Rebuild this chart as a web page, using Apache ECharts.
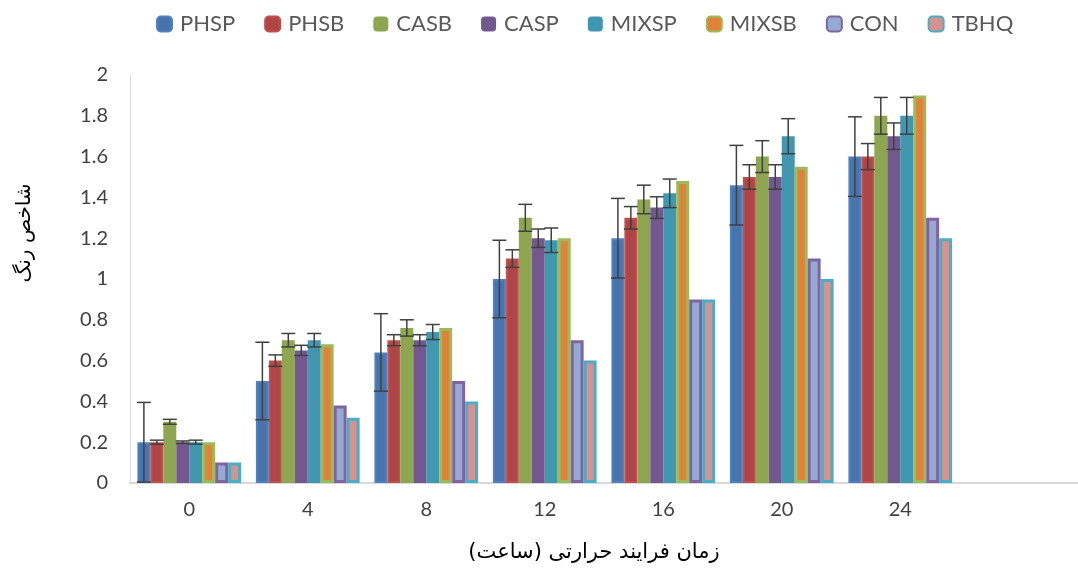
<!DOCTYPE html>
<html>
<head>
<meta charset="utf-8">
<script src="https://cdn.jsdelivr.net/npm/echarts@6/dist/echarts.min.js"></script>
<style>html,body{margin:0;padding:0;background:#fff}#c{width:1078px;height:569px}</style>
</head>
<body>
<div id="c"></div>
<script>
const categories = ['0', '4', '8', '12', '16', '20', '24', ''];
const seriesNames = ['PHSP', 'PHSB', 'CASB', 'CASP', 'MIXSP', 'MIXSB', 'CON', 'TBHQ'];
const PHSP  = [0.2, 0.5, 0.64, 1.0, 1.2, 1.46, 1.6];
const PHSB  = [0.2, 0.6, 0.7, 1.1, 1.3, 1.5, 1.6];
const CASB  = [0.3, 0.7, 0.76, 1.3, 1.39, 1.6, 1.8];
const CASP  = [0.2, 0.65, 0.7, 1.2, 1.35, 1.5, 1.7];
const MIXSP = [0.2, 0.7, 0.74, 1.19, 1.42, 1.7, 1.8];
const MIXSB = [0.2, 0.68, 0.76, 1.2, 1.48, 1.55, 1.9];
const CON   = [0.1, 0.38, 0.5, 0.7, 0.9, 1.1, 1.3];
const TBHQ  = [0.1, 0.32, 0.4, 0.6, 0.9, 1.0, 1.2];
// error bar half-lengths (only first five series show them)
const errPHSP  = [0.195, 0.19, 0.19, 0.19, 0.195, 0.195, 0.195];
const errPHSB  = [0.01, 0.028, 0.027, 0.043, 0.055, 0.06, 0.064];
const errCASB  = [0.012, 0.033, 0.04, 0.066, 0.07, 0.078, 0.09];
const errCASP  = [0.006, 0.025, 0.027, 0.045, 0.053, 0.06, 0.065];
const errMIXSP = [0.01, 0.033, 0.037, 0.06, 0.07, 0.086, 0.09];
const yTicks = ['0', '0.2', '0.4', '0.6', '0.8', '1', '1.2', '1.4', '1.6', '1.8', '2'];

const values = [PHSP, PHSB, CASB, CASP, MIXSP, MIXSB, CON, TBHQ];
const errors = [errPHSP, errPHSB, errCASB, errCASP, errMIXSP];
const styles = [
  {color: '#4874AE', borderColor: '#4F81BD', borderWidth: 2},
  {color: '#B04547', borderColor: '#C0504D', borderWidth: 2},
  {color: '#8DA64F', borderColor: '#8DA64F', borderWidth: 0},
  {color: '#73588F', borderColor: '#73588F', borderWidth: 0},
  {color: '#4197AF', borderColor: '#4197AF', borderWidth: 0},
  {color: '#E0823A', borderColor: '#9BBB59', borderWidth: 3},
  {color: '#95A9D3', borderColor: '#8064A2', borderWidth: 3},
  {color: '#D49390', borderColor: '#4BACC6', borderWidth: 3}
];
const GAP = 0.125;
const N = seriesNames.length;

const series = seriesNames.map((name, i) => ({
  name: name,
  type: 'bar',
  barGap: '0%',
  barCategoryGap: (GAP * 100) + '%',
  itemStyle: styles[i],
  emphasis: {disabled: true},
  data: values[i],
  z: 2
}));

errors.forEach((err, i) => {
  series.push({
    type: 'custom',
    name: seriesNames[i] + '_err',
    z: 5,
    silent: true,
    data: values[i].map((v, k) => [k, v, err[k]]),
    renderItem: function (params, api) {
      const k = api.value(0), v = api.value(1), e = api.value(2);
      const band = api.size([1, 0])[0];
      const bw = band * (1 - GAP) / N;
      const off = (i - (N - 1) / 2) * bw;
      const top = api.coord([k, v + e]);
      const bot = api.coord([k, v - e]);
      const x = top[0] + off;
      const hw = 7;
      const st = {stroke: '#404040', lineWidth: 1.5};
      return {
        type: 'group',
        children: [
          {type: 'line', shape: {x1: x, y1: top[1], x2: x, y2: bot[1]}, style: st},
          {type: 'line', shape: {x1: x - hw, y1: top[1], x2: x + hw, y2: top[1]}, style: st},
          {type: 'line', shape: {x1: x - hw, y1: bot[1], x2: x + hw, y2: bot[1]}, style: st}
        ]
      };
    }
  });
});

const chart = echarts.init(document.getElementById('c'));
chart.setOption({
  animation: false,
  backgroundColor: '#ffffff',
  legend: {
    data: seriesNames,
    top: 8,
    left: 151,
    itemWidth: 15,
    itemHeight: 15,
    itemGap: 29,
    textStyle: {fontFamily: 'Lato', fontSize: 22, color: '#595959', padding: [0, 0, 0, 3]}
  },
  grid: {left: 130, right: -12, top: 75, bottom: 86, containLabel: false},
  xAxis: {
    type: 'category',
    data: categories,
    axisLine: {lineStyle: {color: '#D9D9D9', width: 2}},
    axisTick: {show: false},
    axisLabel: {margin: 17, fontFamily: 'Lato', fontSize: 20, color: '#404040'}
  },
  yAxis: {
    type: 'value',
    min: 0,
    max: 2,
    interval: 0.2,
    axisLine: {show: true, lineStyle: {color: '#D9D9D9', width: 1}},
    axisTick: {show: false},
    splitLine: {show: false},
    axisLabel: {
      margin: 22,
      fontFamily: 'Lato',
      fontSize: 20,
      color: '#404040',
      formatter: function (v) { return yTicks[Math.round(v / 0.2)]; }
    }
  },
  graphic: [
    {
      type: 'text',
      x: 25, y: 233,
      rotation: Math.PI / 2,
      style: {text: 'شاخص رنگ', font: '20px "DejaVu Sans"', fill: '#000', align: 'center', verticalAlign: 'middle'}
    },
    {
      type: 'text',
      x: 594, y: 553,
      style: {text: 'زمان فرایند حرارتی (ساعت)', font: '21px "DejaVu Sans"', fill: '#000', align: 'center', verticalAlign: 'middle'}
    }
  ],
  series: series
});
</script>
</body>
</html>
